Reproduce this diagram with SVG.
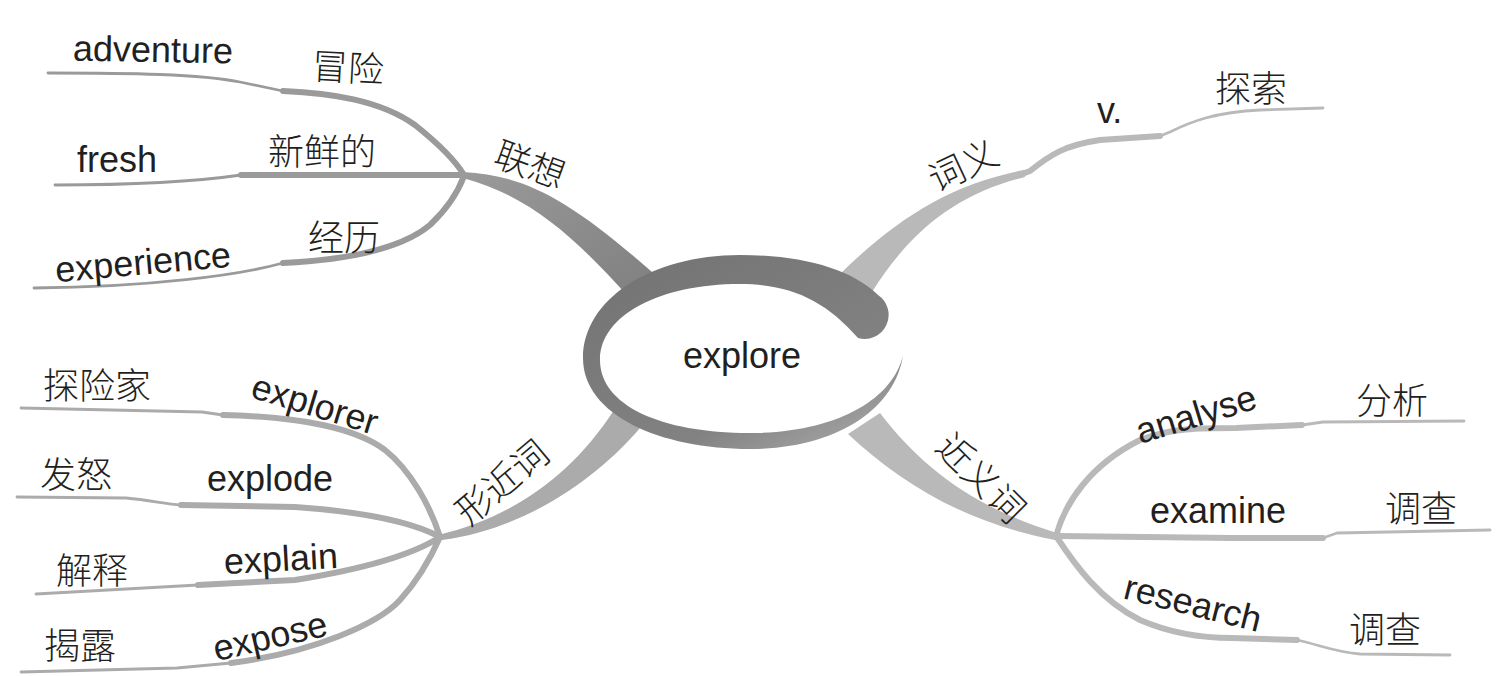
<svg xmlns="http://www.w3.org/2000/svg" width="1503" height="676" viewBox="0 0 1503 676">
<defs>
<style>
.en{font-family:"Liberation Sans",Arial,sans-serif;font-size:36px;fill:#231f20}
.zh{font-family:"Noto Sans CJK SC",sans-serif;font-size:36px;font-weight:300;fill:#231f20;text-anchor:middle;dominant-baseline:central}
.mid{text-anchor:middle}
.c{dominant-baseline:central}
.s{fill:none;stroke-linecap:round;stroke-linejoin:round}
.tl{stroke:#9a9a9a}
.bl{stroke:#ababab}
.rt{stroke:#b9b9b9}
.w1{stroke-width:2.8}
.w2{stroke-width:6}
</style>
<linearGradient id="ringGrad" x1="0.2" y1="0" x2="1" y2="1">
<stop offset="0" stop-color="#747474"/>
<stop offset="0.65" stop-color="#828282"/>
<stop offset="1" stop-color="#b0b0b0"/>
</linearGradient>
<linearGradient id="tlGrad" x1="1" y1="1" x2="0" y2="0">
<stop offset="0" stop-color="#808080"/>
<stop offset="1" stop-color="#9a9a9a"/>
</linearGradient>
</defs>
<rect width="1503" height="676" fill="#ffffff"/>
<g id="connectors">
<path fill="url(#tlGrad)" d="M463,172 C525,175 570,200 652,272 L626,294 C575,238 530,196 463,178 Z"/>
<path fill="#ababab" d="M438,535 C510,518 570,478 614,410 L640,428 C600,475 530,528 442,540 Z"/>
<path fill="#b9b9b9" d="M840,274 C895,220 950,184 1024,170 L1025,177 C960,193 912,228 872,292 Z"/>
<path fill="#b9b9b9" d="M880,413 C922,468 975,508 1057,533 L1055,540 C962,522 900,482 848,434 Z"/>
<path class="s tl w1" d="M48,73 C130,73 200,74 240,82 L283,91"/>
<path class="s tl w2" d="M283,91 C330,93 380,100 415,125 C440,145 455,160 464,175"/>
<path class="s tl w1" d="M55,185 C130,185 200,181 241,175"/>
<path class="s tl w2" d="M241,175 L464,175"/>
<path class="s tl w1" d="M34,288 C150,287 240,275 283,263"/>
<path class="s tl w2" d="M283,263 C345,260 400,250 430,225 C448,208 458,192 464,176"/>
<path class="s bl w1" d="M21,408 L202,412 L223,415"/>
<path class="s bl w2" d="M223,415 C303,417 355,428 385,450 C410,470 430,505 440,537"/>
<path class="s bl w1" d="M17,497 L126,498 C150,500 165,504 181,505"/>
<path class="s bl w2" d="M181,505 L295,507 C366,512 412,522 440,537"/>
<path class="s bl w1" d="M36,594 L198,585"/>
<path class="s bl w2" d="M198,585 L295,580 C370,568 417,552 440,537"/>
<path class="s bl w1" d="M21,672 L177,668 L231,663"/>
<path class="s bl w2" d="M231,663 C316,652 379,623 400,600 C420,578 432,555 440,537"/>
<path class="s rt w2" d="M1022,174 L1030,171 C1050,155 1065,145 1100,140 L1160,136"/>
<path class="s rt w1" d="M1160,136 L1170,132 C1190,122 1215,112 1260,110 L1323,108"/>
<path class="s rt w2" d="M1056,536 C1065,503 1090,465 1140,440 C1170,428 1200,428 1236,428 L1302,425"/>
<path class="s rt w1" d="M1302,425 L1323,422 L1464,421"/>
<path class="s rt w2" d="M1056,536 L1232,538 L1323,538"/>
<path class="s rt w1" d="M1323,538 L1337,533 L1490,530"/>
<path class="s rt w2" d="M1056,536 C1075,565 1100,600 1140,620 C1170,633 1200,638 1232,638 L1297,640"/>
<path class="s rt w1" d="M1297,640 C1320,645 1335,652 1360,654 L1450,655"/>
</g>
<g id="node-explore">
<path fill="#ffffff" d="M903,355 C893,400 835,433 750,433 C660,433 600,405 600,360 C600,315 660,284 740,284 C790,284 825,300 858,338 L892,330 Z"/>
<path fill="url(#ringGrad)" d="M878,295 C850,268 800,255 740,255 C650,255 583,300 583,358 C583,415 660,449 750,449 C835,449 895,410 903,355 C893,400 835,433 750,433 C660,433 600,405 600,360 C600,315 660,284 740,284 C790,284 825,300 858,338 A24,24 0 0 0 878,295 Z"/>
<text class="en mid" x="742" y="368">explore</text>
</g>
<g id="node-lianxiang"><text class="zh" x="531" y="162" transform="rotate(20 531 162)">联想</text></g>
<g id="node-maoxian"><text class="zh" x="348" y="65" transform="rotate(3 348 65)">冒险</text></g>
<g id="node-adventure"><text class="en mid" x="153" y="62" transform="rotate(1 153 52)">adventure</text></g>
<g id="node-xinxiande"><text class="zh" x="322" y="149">新鲜的</text></g>
<g id="node-fresh"><text class="en mid" x="117" y="172">fresh</text></g>
<g id="node-jingli"><text class="zh" x="344" y="235">经历</text></g>
<g id="node-experience"><text class="en mid c" x="143" y="262" transform="rotate(-5 143 262)">experience</text></g>
<g id="node-xingjinci"><text class="zh" x="500" y="480" transform="rotate(-40 500 480)">形近词</text></g>
<g id="node-tanxianjia"><text class="zh" x="97" y="383">探险家</text></g>
<g id="node-explorer"><text class="en mid c" x="315" y="404" transform="rotate(17 315 404)">explorer</text></g>
<g id="node-fanu"><text class="zh" x="76" y="472">发怒</text></g>
<g id="node-explode"><text class="en mid" x="270" y="491">explode</text></g>
<g id="node-jieshi"><text class="zh" x="92" y="568">解释</text></g>
<g id="node-explain"><text class="en mid" x="281" y="571" transform="rotate(-3 281 560)">explain</text></g>
<g id="node-jielu"><text class="zh" x="80" y="643">揭露</text></g>
<g id="node-expose"><text class="en mid c" x="270" y="636" transform="rotate(-13 270 636)">expose</text></g>
<g id="node-ciyi"><text class="zh" x="962" y="163" transform="rotate(-25 962 163)">词义</text></g>
<g id="node-v"><text class="en" x="1097" y="123">v.</text></g>
<g id="node-tansuo"><text class="zh" x="1251" y="86">探索</text></g>
<g id="node-jinyici"><text class="zh" x="983" y="476" transform="rotate(45 983 476)">近义词</text></g>
<g id="node-analyse"><text class="en mid c" x="1196" y="414" transform="rotate(-17 1196 414)">analyse</text></g>
<g id="node-fenxi"><text class="zh" x="1392" y="398">分析</text></g>
<g id="node-examine"><text class="en mid" x="1218" y="523">examine</text></g>
<g id="node-diaocha1"><text class="zh" x="1421" y="506">调查</text></g>
<g id="node-research"><text class="en mid c" x="1193" y="603" transform="rotate(14 1193 603)">research</text></g>
<g id="node-diaocha2"><text class="zh" x="1385" y="627">调查</text></g>
</svg>
